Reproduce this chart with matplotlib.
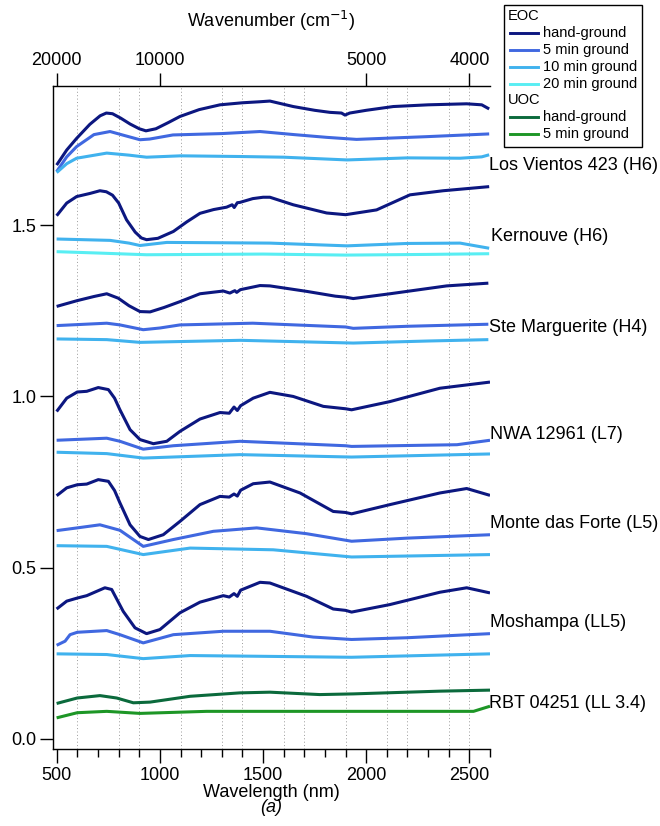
import numpy as np
import matplotlib
matplotlib.use('Agg')
import matplotlib.pyplot as plt
from matplotlib.lines import Line2D
from matplotlib.patches import Rectangle

plt.rcParams['font.family'] = ['Liberation Sans', 'DejaVu Sans']

# reflectance spectra (offset for display), pairs of (wavelength nm, value)
lv_hand = [(499, 1.676), (548, 1.72), (596, 1.754), (660, 1.795), (710, 1.820), (740, 1.828),
           (770, 1.826), (810, 1.813), (855, 1.796), (900, 1.782), (932, 1.776), (980, 1.782),
           (1040, 1.800), (1097, 1.818), (1190, 1.838), (1291, 1.852), (1400, 1.858), (1485, 1.861),
           (1533, 1.863), (1646, 1.847), (1750, 1.836), (1824, 1.830), (1880, 1.828), (1897, 1.822),
           (1920, 1.828), (2000, 1.836), (2131, 1.847), (2300, 1.852), (2487, 1.855), (2560, 1.852),
           (2596, 1.840)]
lv_5min = [(499, 1.657), (548, 1.70), (596, 1.730), (680, 1.765), (758, 1.774), (830, 1.762),
           (903, 1.750), (950, 1.752), (1063, 1.764), (1300, 1.768), (1485, 1.774), (1650, 1.765),
           (1808, 1.757), (1953, 1.751), (2293, 1.759), (2596, 1.767)]
lv_10min = [(499, 1.654), (548, 1.68), (596, 1.696), (742, 1.711), (850, 1.705), (935, 1.699),
            (1100, 1.703), (1388, 1.701), (1600, 1.699), (1907, 1.691), (2200, 1.697), (2455, 1.696),
            (2560, 1.700), (2596, 1.706)]

kv_hand = [(499, 1.528), (548, 1.565), (596, 1.584), (660, 1.593), (709, 1.601), (740, 1.598),
           (770, 1.588), (800, 1.565), (838, 1.516), (880, 1.48), (910, 1.463), (935, 1.458),
           (990, 1.462), (1065, 1.482), (1130, 1.510), (1194, 1.535), (1260, 1.546), (1323, 1.553),
           (1350, 1.560), (1360, 1.552), (1375, 1.566), (1388, 1.567), (1450, 1.578), (1500, 1.582),
           (1533, 1.582), (1646, 1.560), (1808, 1.536), (1900, 1.531), (2050, 1.545), (2212, 1.589),
           (2373, 1.601), (2596, 1.613)]
kv_10min = [(499, 1.460), (758, 1.456), (850, 1.448), (903, 1.441), (960, 1.445), (1033, 1.450),
            (1300, 1.449), (1533, 1.448), (1907, 1.440), (2200, 1.447), (2455, 1.448), (2596, 1.433)]
kv_20min = [(499, 1.423), (700, 1.419), (935, 1.414), (1500, 1.416), (1900, 1.413), (2300, 1.415),
            (2596, 1.417)]

sm_hand = [(499, 1.263), (599, 1.280), (680, 1.292), (742, 1.300), (798, 1.287), (850, 1.265),
           (903, 1.248), (952, 1.247), (1020, 1.260), (1097, 1.277), (1194, 1.300), (1307, 1.308),
           (1339, 1.302), (1352, 1.306), (1363, 1.309), (1372, 1.304), (1390, 1.312), (1485, 1.324),
           (1533, 1.323), (1711, 1.307), (1850, 1.293), (1900, 1.290), (1937, 1.286), (2115, 1.300),
           (2390, 1.323), (2592, 1.331)]
sm_5min = [(499, 1.207), (742, 1.214), (806, 1.209), (919, 1.195), (1000, 1.200), (1097, 1.209),
           (1450, 1.214), (1900, 1.203), (1937, 1.199), (2200, 1.205), (2592, 1.211)]
sm_10min = [(499, 1.168), (742, 1.166), (903, 1.158), (1390, 1.164), (1937, 1.156), (2300, 1.162),
            (2592, 1.166)]

nwa_hand = [(499, 0.956), (548, 0.995), (599, 1.013), (645, 1.015), (701, 1.026), (750, 1.020),
            (780, 0.995), (806, 0.961), (855, 0.903), (903, 0.874), (968, 0.862), (1033, 0.869),
            (1097, 0.898), (1194, 0.934), (1291, 0.953), (1336, 0.951), (1359, 0.969), (1375, 0.959),
            (1391, 0.973), (1452, 0.995), (1533, 1.012), (1646, 1.000), (1792, 0.971), (1900, 0.964),
            (1929, 0.961), (2115, 0.985), (2357, 1.024), (2600, 1.042)]
nwa_5min = [(499, 0.872), (742, 0.878), (806, 0.869), (919, 0.846), (1065, 0.856), (1388, 0.869),
            (1900, 0.856), (1929, 0.854), (2440, 0.859), (2600, 0.872)]
nwa_10min = [(499, 0.837), (742, 0.833), (919, 0.820), (1388, 0.830), (1929, 0.823), (2600, 0.832)]

mdf_hand = [(499, 0.710), (548, 0.733), (599, 0.742), (645, 0.744), (701, 0.757), (750, 0.752),
            (780, 0.725), (806, 0.689), (855, 0.625), (903, 0.591), (944, 0.582), (1016, 0.596),
            (1097, 0.635), (1194, 0.684), (1291, 0.708), (1336, 0.706), (1359, 0.715), (1375, 0.709),
            (1391, 0.726), (1452, 0.745), (1533, 0.750), (1679, 0.718), (1840, 0.664), (1900, 0.661),
            (1929, 0.657), (2115, 0.684), (2357, 0.718), (2487, 0.731), (2600, 0.711)]
mdf_5min = [(499, 0.608), (599, 0.616), (709, 0.625), (806, 0.609), (919, 0.562), (1065, 0.582),
            (1259, 0.606), (1469, 0.616), (1711, 0.599), (1929, 0.577), (2196, 0.586), (2600, 0.596)]
mdf_10min = [(499, 0.564), (742, 0.562), (919, 0.538), (1146, 0.557), (1549, 0.552), (1929, 0.531),
             (2600, 0.538)]

msh_hand = [(499, 0.379), (548, 0.402), (599, 0.411), (645, 0.418), (733, 0.441), (766, 0.436),
            (822, 0.372), (879, 0.324), (935, 0.307), (1000, 0.319), (1097, 0.368), (1194, 0.399),
            (1307, 0.418), (1336, 0.414), (1359, 0.424), (1375, 0.416), (1391, 0.434), (1485, 0.457),
            (1533, 0.455), (1711, 0.416), (1840, 0.379), (1900, 0.375), (1929, 0.370), (2115, 0.392),
            (2357, 0.428), (2487, 0.441), (2600, 0.426)]
msh_5min = [(499, 0.273), (540, 0.285), (564, 0.304), (599, 0.311), (742, 0.316), (806, 0.304),
            (919, 0.280), (1065, 0.304), (1307, 0.314), (1533, 0.314), (1743, 0.297), (1929, 0.290),
            (2196, 0.295), (2600, 0.307)]
msh_10min = [(499, 0.248), (742, 0.246), (919, 0.234), (1146, 0.243), (1469, 0.241), (1929, 0.238),
             (2600, 0.248)]

rbt_hand = [(499, 0.103), (599, 0.119), (709, 0.126), (790, 0.119), (871, 0.105), (952, 0.107),
            (1146, 0.124), (1388, 0.134), (1533, 0.136), (1775, 0.129), (1937, 0.131), (2357, 0.139),
            (2600, 0.142)]
rbt_5min = [(499, 0.061), (599, 0.076), (742, 0.080), (903, 0.074), (1226, 0.080), (1874, 0.080),
            (2520, 0.080), (2600, 0.095)]

# sample names and the y value their label sits at
names = ['Los Vientos 423 (H6)', 'Kernouve (H6)', 'Ste Marguerite (H4)', 'NWA 12961 (L7)',
         'Monte das Forte (L5)', 'Moshampa (LL5)', 'RBT 04251 (LL 3.4)']
name_y = [1.676, 1.467, 1.200, 0.890, 0.628, 0.340, 0.103]
name_dx = [0.0, 0.005, 0.0, 0.002, 0.002, 0.002, 0.0]

grid_wl = [600, 800, 900, 1100, 1300, 1400, 1600, 1700, 1900, 2100, 2200, 2400, 2500]
top_wl = [500, 1000, 2000, 2500]

navy = '#0c1780'
royal = '#4068e0'
sky = '#40b2ee'
cyan = '#58eef3'
dkgreen = '#0b6a3c'
green = '#1d9626'

series = [
    (lv_hand, navy), (lv_5min, royal), (lv_10min, sky),
    (kv_hand, navy), (kv_10min, sky), (kv_20min, cyan),
    (sm_hand, navy), (sm_5min, royal), (sm_10min, sky),
    (nwa_hand, navy), (nwa_5min, royal), (nwa_10min, sky),
    (mdf_hand, navy), (mdf_5min, royal), (mdf_10min, sky),
    (msh_hand, navy), (msh_5min, royal), (msh_10min, sky),
    (rbt_hand, dkgreen), (rbt_5min, green),
]

W, H = 660, 826
fig = plt.figure(figsize=(W / 100, H / 100), dpi=100)
ax_l, ax_r, ax_t, ax_b = 52.7, 490, 86, 749
ax = fig.add_axes([ax_l / W, 1 - ax_b / H, (ax_r - ax_l) / W, (ax_b - ax_t) / H])

for wl in grid_wl:
    ax.axvline(wl, color='#9a9a9a', lw=0.7, ls=(0, (1, 2.5)), zorder=0)

for pts, col in series:
    arr = np.array(pts)
    ax.plot(arr[:, 0], arr[:, 1], color=col, lw=2.2, solid_capstyle='butt',
            solid_joinstyle='round')

ax.set_xlim(480, 2600)
ax.set_ylim(-0.03, 1.907)
ax.spines['right'].set_visible(False)
for s in ['left', 'bottom', 'top']:
    ax.spines[s].set_linewidth(1.0)
    ax.spines[s].set_color('#333333')

ax.set_xticks([500, 1000, 1500, 2000, 2500])
ax.set_xticks(np.arange(500, 2601, 100), minor=True)
ax.set_yticks([0.0, 0.5, 1.0, 1.5])
ax.set_yticklabels(['0.0', '0.5', '1.0', '1.5'])
ax.tick_params(axis='x', which='major', length=10, width=1, labelsize=13, pad=3, direction='out')
ax.tick_params(axis='x', which='minor', length=5.5, width=1, direction='out')
ax.tick_params(axis='y', which='major', length=9.5, width=1, labelsize=13, pad=2, direction='out')
ax.set_xlabel('Wavelength (nm)', fontsize=13, labelpad=0)
fig.text(0.5 * (ax_l + ax_r) / W, 1 - 808 / H, '(a)', fontsize=13, style='italic',
         ha='center', va='center')

top = ax.twiny()
top.set_xlim(ax.get_xlim())
top.set_xticks(top_wl)
top.set_xticklabels([f'{1e7 / w:.0f}' for w in top_wl])
top.tick_params(axis='x', which='major', length=9.5, width=1, labelsize=13, pad=3)
top.spines['right'].set_visible(False)
top.set_xlabel('Wavenumber (cm$^{-1}$)', fontsize=13, labelpad=18)

for name, y, dx in zip(names, name_y, name_dx):
    ax.text(0.998 + dx, y, name, transform=ax.get_yaxis_transform(), fontsize=13,
            ha='left', va='center', clip_on=False)

# legend box drawn by hand so the group headers sit flush left
def px(x, y):
    return x / W, 1 - y / H

bx0, by0, bx1, by1 = 504, 5, 642, 147
fig.add_artist(Rectangle(px(bx0, by1), (bx1 - bx0) / W, (by1 - by0) / H,
                         transform=fig.transFigure, fill=True, facecolor='white',
                         edgecolor='black', lw=1.0))
leg_rows = [('EOC', None), ('hand-ground', navy), ('5 min ground', royal),
            ('10 min ground', sky), ('20 min ground', cyan), ('UOC', None),
            ('hand-ground', dkgreen), ('5 min ground', green)]
for i, (txt, col) in enumerate(leg_rows):
    yy = 16.5 + i * 16.8
    if col is None:
        fig.text(*px(508, yy), txt, fontsize=10.5, ha='left', va='center')
    else:
        x0, y0 = px(510, yy)
        x1, _ = px(538, yy)
        fig.add_artist(Line2D([x0, x1], [y0, y0], transform=fig.transFigure, color=col, lw=2.1))
        fig.text(*px(543, yy), txt, fontsize=10.5, ha='left', va='center')

fig.savefig('out.png', dpi=100)
